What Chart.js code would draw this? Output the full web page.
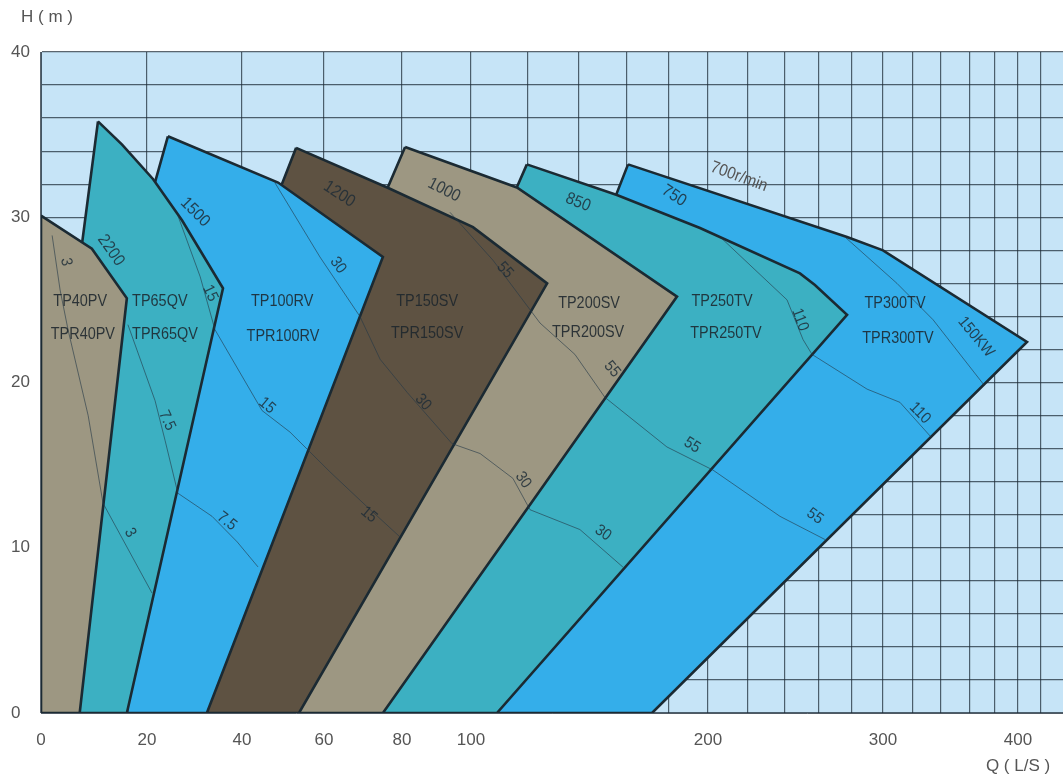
<!DOCTYPE html>
<html>
<head>
<meta charset="utf-8">
<script src="https://cdn.jsdelivr.net/npm/chart.js@4.4.1/dist/chart.umd.min.js"></script>
<style>
  html, body { margin: 0; padding: 0; background: #fff; overflow: hidden; }
  #wrap { width: 1063px; height: 776px; }
  canvas { display: block; }
</style>
</head>
<body>
<div id="wrap"><canvas id="chart"></canvas></div>
<script>
// pump ranges, [Q (L/S), H (m)] outline of each model, left to right
const tp40pv  = [[0, 30.1], [9.6, 28.1], [16.2, 25.1], [7.3, 0], [0, 0]];
const tp65qv  = [[10.75, 35.8], [15.3, 34.4], [21.3, 32.3], [27.4, 29.8], [36, 25.7], [16.2, 0], [7.3, 0], [7.7, 28.3]];
const tp100rv = [[24.4, 34.9], [48.8, 32.1], [75.1, 27.6], [32.6, 0], [16.2, 0], [20.6, 31.0]];
const tp150sv = [[53.2, 34.2], [76.2, 31.8], [100.7, 29.4], [127.5, 26.0], [53.9, 0], [32.6, 0], [48.0, 30.9]];
const tp200sv = [[80.9, 34.25], [116.1, 31.8], [184.1, 25.2], [75.1, 0], [53.9, 0], [73.8, 30.4]];
const tp250tv = [[119.6, 33.2], [155.8, 31.35], [195.9, 29.35], [248.8, 26.6], [257.6, 25.9], [277, 24.1], [109.1, 0], [75.1, 0], [113, 30.6]];
const tp300tv = [[160.5, 33.2], [277, 28.8], [300, 28.0], [408, 22.45], [171.9, 0], [109.1, 0], [152.1, 30.1]];

// motor power lines (kW)
const kw3   = [[2.1, 28.9], [3.6, 25.6], [5.1, 23.2], [8.9, 18.0], [11.7, 12.7], [21.05, 7.26]];
const kw7_5 = [[16.4, 23.5], [21.7, 18.9], [23.8, 16.5], [26.5, 13.3], [33.7, 11.9], [39, 10.35], [43.9, 8.84]];
const kw15  = [[26.5, 30.1], [31.2, 26.4], [34.3, 23.2], [44.9, 18.3], [51.7, 17.0], [61.5, 14.6], [70.5, 12.6], [79.5, 10.65]];
const kw30  = [[48, 32.1], [59, 27.6], [69.2, 24.0], [74.4, 21.4], [81.5, 19.4], [94.5, 16.3], [103.2, 15.7], [114.7, 14.2], [120.8, 12.3], [140.4, 11.1], [158.3, 8.83]];
const kw55  = [[93.9, 30.3], [107.7, 27.4], [124.7, 23.6], [138.4, 21.7], [150.8, 19.1], [179, 16.1], [202.5, 14.7], [237.3, 11.9], [263.6, 10.5]];
const kw110 = [[207, 28.7], [241.2, 25.0], [250.6, 22.6], [255.9, 21.7], [289.7, 19.6], [311.3, 18.8], [332.9, 16.7]];
const kw150 = [[275.8, 28.8], [309.3, 26.0], [334.3, 23.8], [371.2, 19.85]];

// text on the chart: [text, Q, H, angle]
const modelLabels = [
  ['TP40PV', 7.4, 24.9, 0], ['TPR40PV', 7.9, 22.9, 0],
  ['TP65QV', 22.7, 24.9, 0], ['TPR65QV', 23.8, 22.9, 0],
  ['TP100RV', 49.8, 24.9, 0], ['TPR100RV', 50, 22.8, 0],
  ['TP150SV', 87.3, 24.9, 0], ['TPR150SV', 87.3, 23.0, 0],
  ['TP200SV', 144.2, 24.8, 0], ['TPR200SV', 143.8, 23.05, 0],
  ['TP250TV', 207, 24.9, 0], ['TPR250TV', 209, 23.0, 0],
  ['TP300TV', 308, 24.8, 0], ['TPR300TV', 310, 22.7, 0]
];
const speedLabels = [
  ['2200', 13.2, 28.0, 55], ['1500', 30.1, 30.3, 45], ['1200', 63.9, 31.4, 33],
  ['1000', 92.2, 31.65, 27], ['850', 139.6, 30.9, 22], ['750', 182.6, 31.3, 33],
  ['700r/min', 215.5, 32.45, 20]
];
const powerLabels = [
  ['3', 4.7, 27.3, 80], ['3', 16.8, 10.9, 60],
  ['7.5', 24.2, 17.7, 65], ['7.5', 36.8, 11.6, 38],
  ['15', 33.3, 25.4, 65], ['15', 46.1, 18.6, 40], ['15', 71.5, 12.0, 40],
  ['30', 63.6, 27.1, 55], ['30', 86.1, 18.8, 48], ['30', 118.3, 14.1, 55], ['30', 150, 10.9, 35],
  ['55', 111.9, 26.8, 48], ['55', 153.8, 20.8, 50], ['55', 191.8, 16.2, 32], ['55', 257.6, 11.9, 35],
  ['110', 248.8, 23.8, 70], ['110', 325, 18.15, 45],
  ['150KW', 364.8, 22.75, 50]
];

const xLabelled = [0, 20, 40, 60, 80, 100, 200, 300, 400];

// the Q axis is stretched: gridline every 20 L/S, spacing shrinks to the right
const flowGrid = [0, 20, 40, 60, 80, 100, 120, 140, 160, 180, 200, 220, 240, 260, 280, 300, 320, 340, 360, 380, 400, 440];
const flowSpan = [0, 106, 201, 283, 361, 430, 487, 538, 586, 628, 667, 707, 744, 778, 811, 842, 872, 900, 929, 954, 977, 1022];

function flowDecimal(q) {
  const last = flowSpan[flowSpan.length - 1];
  let i = 0;
  while (i < flowGrid.length - 2 && q > flowGrid[i + 1]) i++;
  const t = (q - flowGrid[i]) / (flowGrid[i + 1] - flowGrid[i]);
  return (flowSpan[i] + t * (flowSpan[i + 1] - flowSpan[i])) / last;
}
function flowValue(d) {
  const p = d * flowSpan[flowSpan.length - 1];
  let i = 0;
  while (i < flowSpan.length - 2 && p > flowSpan[i + 1]) i++;
  const t = (p - flowSpan[i]) / (flowSpan[i + 1] - flowSpan[i]);
  return flowGrid[i] + t * (flowGrid[i + 1] - flowGrid[i]);
}

class FlowScale extends Chart.LinearScale {
  getPixelForValue(value) {
    return value === null ? NaN : this.getPixelForDecimal(flowDecimal(value));
  }
  getValueForPixel(pixel) {
    return flowValue(this.getDecimalForPixel(pixel));
  }
}
FlowScale.id = 'flow';
FlowScale.defaults = Chart.LinearScale.defaults;
Chart.register(FlowScale);

const FONT = '"Liberation Sans", Arial, sans-serif';
const GRID = 'rgba(28,42,54,0.72)';
const OUTLINE = '#1b2a33';

function area(data, color) {
  return {
    data: data.concat([data[0]]),
    showLine: true,
    fill: 'shape',
    backgroundColor: color,
    borderColor: OUTLINE,
    borderWidth: 2.6,
    borderJoinStyle: 'miter',
    pointRadius: 0,
    tension: 0
  };
}
function powerLine(data) {
  return {
    data: data,
    showLine: true,
    fill: false,
    borderColor: 'rgba(35,55,70,0.6)',
    borderWidth: 1,
    pointRadius: 0,
    tension: 0
  };
}

function drawText(ctx, txt, x, y, angle, size, color, sx) {
  ctx.save();
  ctx.translate(x, y);
  ctx.rotate(angle * Math.PI / 180);
  ctx.scale(sx, 1);
  ctx.font = size + 'px ' + FONT;
  ctx.fillStyle = color;
  ctx.textAlign = 'center';
  ctx.textBaseline = 'middle';
  ctx.fillText(txt, 0, 0);
  ctx.restore();
}

const plotBackground = {
  id: 'plotBackground',
  beforeDraw(chart) {
    const {ctx, chartArea: a} = chart;
    ctx.save();
    ctx.fillStyle = '#c6e4f7';
    ctx.fillRect(a.left, a.top, a.right - a.left, a.bottom - a.top);
    ctx.restore();
  }
};

const chartText = {
  id: 'chartText',
  afterDraw(chart) {
    const {ctx, scales: {x, y}} = chart;
    const put = (list, size, color, sx) => list.forEach(([t, q, h, a]) =>
      drawText(ctx, t, x.getPixelForValue(q), y.getPixelForValue(h), a, size, color, sx));
    put(modelLabels, 17, 'rgba(28,38,44,0.88)', 0.85);
    put(speedLabels.slice(0, 6), 17, 'rgba(30,45,55,0.85)', 0.9);
    put(speedLabels.slice(6), 17, '#555', 0.9);
    put(powerLabels, 16, 'rgba(30,45,55,0.85)', 0.9);
    drawText(ctx, 'H ( m )', 47, 17, 0, 17, '#555', 1);
    drawText(ctx, 'Q ( L/S )', 1018, 766, 0, 17, '#555', 1);
  }
};

new Chart(document.getElementById('chart'), {
  type: 'scatter',
  data: {
    datasets: [
      powerLine(kw3), powerLine(kw7_5), powerLine(kw15), powerLine(kw30),
      powerLine(kw55), powerLine(kw110), powerLine(kw150),
      area(tp40pv, '#9d9782'),
      area(tp65qv, '#3cb0c2'),
      area(tp100rv, '#34aeea'),
      area(tp150sv, '#5e5242'),
      area(tp200sv, '#9d9782'),
      area(tp250tv, '#3cb0c2'),
      area(tp300tv, '#34aeea')
    ]
  },
  options: {
    responsive: true,
    maintainAspectRatio: false,
    animation: false,
    layout: { padding: { top: 52, left: 11, right: 0, bottom: 0 } },
    plugins: {
      legend: { display: false },
      tooltip: { enabled: false }
    },
    scales: {
      x: {
        type: 'flow',
        min: 0,
        max: 440,
        z: 1,
        afterFit: s => { s.height = 63; },
        grid: {
          color: c => (c.tick && c.tick.value === 440) ? 'rgba(0,0,0,0)' : GRID,
          lineWidth: 1.2,
          drawTicks: true,
          tickLength: 17,
          tickColor: 'rgba(0,0,0,0)'
        },
        border: { color: GRID, width: 1 },
        ticks: {
          stepSize: 20,
          maxTicksLimit: 100,
          autoSkip: false,
          maxRotation: 0,
          padding: 0,
          color: '#555',
          font: { family: FONT, size: 17 },
          callback: v => xLabelled.includes(v) ? String(v) : ''
        }
      },
      y: {
        min: 0,
        max: 40,
        z: 1,
        afterFit: s => { s.width = 30; },
        grid: { color: GRID, lineWidth: 1.2, drawTicks: false },
        border: { color: GRID, width: 1 },
        ticks: {
          stepSize: 2,
          autoSkip: false,
          crossAlign: 'far',
          color: '#555',
          font: { family: FONT, size: 17 },
          callback: v => v % 10 === 0 ? String(v) : ''
        }
      }
    }
  },
  plugins: [plotBackground, chartText]
});
</script>
</body>
</html>
